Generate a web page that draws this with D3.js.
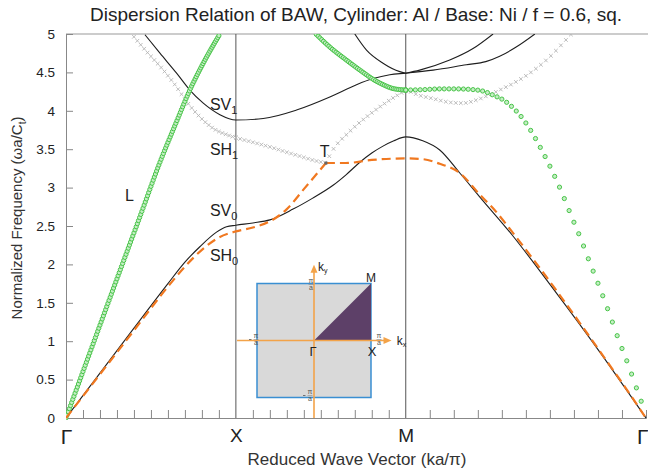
<!DOCTYPE html>
<html><head><meta charset="utf-8">
<script src="https://cdn.jsdelivr.net/npm/d3@7"></script>
<style>body{margin:0;background:#fff}svg{display:block}text{font-family:"Liberation Sans",Arial,sans-serif}</style>
</head><body>
<svg id="c" width="648" height="469"></svg>
<script>
// ---------- data ----------
const symLabels = ["Γ","X","M","Γ"];
const symPos = [0, 1, 2, 2 + Math.SQRT2];
const yTicks = [0,0.5,1,1.5,2,2.5,3,3.5,4,4.5,5];
const yTickLabels = ["0","0.5","1","1.5","2","2.5","3","3.5","4","4.5","5"];

// [reduced path position, normalized frequency]
const SV0 = [[0,0],[0.2,0.584],[0.4,1.17],[0.6,1.75],[0.7,2.03],[0.788,2.23],[0.886,2.42],[0.945,2.49],[1.0,2.51],
  [1.1,2.54],[1.2,2.58],[1.337,2.72],[1.45,2.86],[1.572,3.03],[1.65,3.17],[1.73,3.33],[1.8,3.45],[1.866,3.54],[1.93,3.61],[2.0,3.66],
  [2.1,3.61],[2.2,3.49],[2.318,3.19],[2.435,2.88],[2.631,2.37],[2.75,2.03],[2.906,1.57],[3.024,1.22],[3.171,0.77],[3.298,0.37],[3.414,0]];
const SH0a = [[0,0],[0.2,0.57],[0.4,1.14],[0.6,1.71],[0.7,1.97],[0.8,2.19],[0.9,2.35],[1.0,2.43],
  [1.1,2.48],[1.2,2.56],[1.3,2.72],[1.4,2.98],[1.53,3.32]];
const SH0b = [[1.53,3.32],[1.647,3.32],[1.8,3.36],[2.0,3.38],[2.1,3.37],[2.2,3.31],[2.318,3.19],[2.435,2.91],[2.514,2.73],
  [2.631,2.41],[2.749,2.07],[2.867,1.72],[3.024,1.24],[3.171,0.78],[3.298,0.38],[3.414,0]];
const SV1 = [[0.465,4.99],[0.553,4.75],[0.651,4.49],[0.729,4.27],[0.808,4.10],[0.906,3.95],[1.0,3.88],
  [1.161,3.90],[1.357,4.01],[1.553,4.18],[1.71,4.34],[1.808,4.42],[1.906,4.47],[2.0,4.49],
  [2.161,4.53],[2.357,4.60],[2.471,4.64],[2.553,4.71],[2.65,4.83],[2.76,5.0]];
const B2a = [[1.70,5.0],[1.769,4.79],[1.866,4.62],[1.965,4.51],[2.0,4.49]];
const B2b = [[2.0,4.49],[2.082,4.53],[2.259,4.66],[2.396,4.81],[2.514,5.0]];
const SH1a = [[0.386,5.0],[0.475,4.77],[0.573,4.53],[0.651,4.31],[0.71,4.12],[0.788,3.92],[0.867,3.77],[0.945,3.69],[1.0,3.65],
  [1.1,3.59],[1.2,3.53],[1.3,3.46],[1.376,3.41],[1.45,3.36],[1.53,3.32]];
const SH1b = [[1.53,3.32],[1.56,3.45],[1.67,3.73],[1.769,3.92],[1.866,4.08],[1.965,4.22],[2.0,4.26],
  [2.08,4.20],[2.157,4.16],[2.259,4.11],[2.337,4.10],[2.416,4.14],[2.494,4.21],[2.553,4.27],[2.651,4.38],[2.749,4.52],[2.847,4.70],[2.925,4.88],[2.975,5.0]];
const La = [[0,0],[0.1,0.605],[0.298,1.80],[0.435,2.62],[0.553,3.33],[0.651,3.86],[0.729,4.27],[0.808,4.62],[0.906,5.0]];
const Lb = [[1.471,5.0],[1.553,4.83],[1.651,4.66],[1.749,4.50],[1.808,4.41],[1.867,4.34],[1.925,4.29],[2.0,4.27]];
const Lc = [[2.0,4.27],[2.1,4.275],[2.2,4.285],[2.3,4.285],[2.4,4.275],[2.465,4.25],[2.518,4.20],[2.575,4.14],[2.631,4.04],
  [2.688,3.90],[2.745,3.71],[2.8,3.49],[2.857,3.24],[2.916,2.95],[2.971,2.65],[3.029,2.34],[3.084,2.02],[3.141,1.70],
  [3.2,1.35],[3.253,1.02],[3.312,0.68],[3.366,0.34],[3.414,0.05]];

const bandLabels = [{t:"SV",sub:"1",s:0.847,f:4.01},{t:"SH",sub:"1",s:0.847,f:3.42},{t:"SV",sub:"0",s:0.847,f:2.63},{t:"SH",sub:"0",s:0.847,f:2.04},{t:"L",sub:"",s:0.347,f:2.83},{t:"T",sub:"",s:1.494,f:3.4}];
const pointT = [1.53,3.32];

// Brillouin zone inset (units of pi/a)
const bz = [[-1,-1],[1,-1],[1,1],[-1,1]];
const ibz = [[0,0],[1,0],[1,1]];

// ---------- drawing ----------
const svg = d3.select("#c");
const x = d3.scaleLinear().domain([0, 2 + Math.SQRT2]).range([66, 646]);
const y = d3.scaleLinear().domain([0, 5]).range([418, 34]);
const line = d3.line().x(d => x(d[0])).y(d => y(d[1])).curve(d3.curveMonotoneX);

svg.append("defs").append("clipPath").attr("id","clip").append("rect")
  .attr("x",66).attr("y",34).attr("width",582).attr("height",386);

// title
svg.append("text").attr("x",356).attr("y",21).attr("text-anchor","middle").attr("font-size",19).attr("fill","#222")
  .text("Dispersion Relation of BAW, Cylinder: Al / Base: Ni / f = 0.6, sq.");

// frame: top line
svg.append("line").attr("x1",66).attr("x2",648).attr("y1",y(5)).attr("y2",y(5)).attr("stroke","#999").attr("stroke-width",1.2);

// y axis
const yAxis = svg.append("g").attr("transform","translate(66,0)")
  .call(d3.axisLeft(y).tickValues(yTicks).tickFormat((d,i)=>yTickLabels[i]).tickSize(-7).tickPadding(11));
yAxis.select(".domain").attr("stroke","#888");
yAxis.selectAll(".tick line").attr("stroke","#888");
yAxis.selectAll(".tick text").attr("font-size",13.5).attr("fill","#222").attr("font-family","Liberation Sans, Arial, sans-serif");

// x axis minor ticks
const minor = [];
for (let i=1;i<10;i++) minor.push(i/10);
for (let i=1;i<10;i++) minor.push(1+i/10);
for (let i=1;i<10;i++) minor.push(2+Math.SQRT2*i/10);
const xAxis = svg.append("g").attr("transform","translate(0,418)")
  .call(d3.axisBottom(x).tickValues(minor).tickFormat("").tickSize(-8));
xAxis.select(".domain").attr("stroke","#888");
xAxis.selectAll(".tick line").attr("stroke","#888");
const xLab = svg.append("g").attr("transform","translate(0,418)")
  .call(d3.axisBottom(x).tickValues(symPos).tickFormat((d,i)=>symLabels[i]).tickSize(0).tickPadding(11));
xLab.select(".domain").remove();
xLab.selectAll(".tick text").attr("fill","#222")
  .attr("font-family",(d,i)=> symLabels[i]==="Γ" ? "Liberation Serif, Times New Roman, serif" : "Liberation Sans, Arial, sans-serif")
  .attr("font-size",(d,i)=> symLabels[i]==="Γ" ? 21 : 19)
  .attr("text-anchor",(d,i)=> i===symLabels.length-1 ? "end" : "middle")
  .attr("dx",(d,i)=> i===symLabels.length-1 ? 2 : 0);

// symmetry vertical lines
svg.selectAll(".sym").data([1,2]).enter().append("line")
  .attr("x1",d=>x(d)).attr("x2",d=>x(d)).attr("y1",y(0)).attr("y2",y(5)).attr("stroke","#555").attr("stroke-width",1);

// axis titles
svg.append("text").attr("x",357).attr("y",465).attr("text-anchor","middle").attr("font-size",17).attr("fill","#333")
  .text("Reduced Wave Vector (ka/π)");
const yl = svg.append("text").attr("transform","translate(22,218) rotate(-90)").attr("text-anchor","middle").attr("font-size",15).attr("fill","#333");
yl.append("tspan").text("Normalized Frequency (ωa/C");
yl.append("tspan").attr("font-size",10).attr("dy",4).text("t");
yl.append("tspan").attr("dy",-4).text(")");

// ---------- inset ----------
const ix = d3.scaleLinear().domain([-1,1]).range([257,371]);
const iy = d3.scaleLinear().domain([-1,1]).range([397.5,283.5]);
const inset = svg.append("g");
inset.append("polygon").attr("points", bz.map(p=>[ix(p[0]),iy(p[1])].join(",")).join(" "))
  .attr("fill","#d9d9d9").attr("stroke","#3a8fd2").attr("stroke-width",1.5);
inset.append("polygon").attr("points", ibz.map(p=>[ix(p[0]),iy(p[1])].join(",")).join(" "))
  .attr("fill","#5d4068");
const oc = "#f3a349";
inset.append("line").attr("x1",ix(-1.35)).attr("x2",ix(1.28)).attr("y1",iy(0)).attr("y2",iy(0)).attr("stroke",oc).attr("stroke-width",1.6);
inset.append("line").attr("x1",ix(0)).attr("x2",ix(0)).attr("y1",418).attr("y2",iy(1.25)).attr("stroke",oc).attr("stroke-width",1.6);
inset.append("polygon").attr("points",[[ix(1.36),iy(0)],[ix(1.36)-8,iy(0)-3.5],[ix(1.36)-8,iy(0)+3.5]].map(p=>p.join(",")).join(" ")).attr("fill",oc);
inset.append("polygon").attr("points",[[ix(0),iy(1.33)],[ix(0)-3.5,iy(1.33)+8],[ix(0)+3.5,iy(1.33)+8]].map(p=>p.join(",")).join(" ")).attr("fill",oc);
function itext(t,px,py,fs,anchor,fam){ return inset.append("text").attr("x",px).attr("y",py).attr("font-size",fs).attr("fill","#222").attr("text-anchor",anchor||"start").attr("font-family",fam||null).text(t); }
itext("M", ix(1)-5, iy(1)-2, 12);
itext("Γ", ix(0)-1, iy(0)+15, 13, "middle");
itext("X", ix(1)+1, iy(0)+15, 13, "middle");
const kyT = itext("k", ix(0)+4, iy(1.33)+6, 12); kyT.append("tspan").attr("font-size",7).attr("dy",2).text("y");
const kxT = itext("k", ix(1.45), iy(0)+4, 12); kxT.append("tspan").attr("font-size",7).attr("dy",2).text("x");
function frac(cx, cy, neg){
  const g = inset.append("g").attr("fill","#555");
  g.append("text").attr("x",cx).attr("y",cy-1.5).attr("font-size",7).attr("text-anchor","middle").text("π");
  g.append("line").attr("x1",cx-2.5).attr("x2",cx+2.5).attr("y1",cy).attr("y2",cy).attr("stroke","#777").attr("stroke-width",0.5);
  g.append("text").attr("x",cx).attr("y",cy+5.5).attr("font-size",7).attr("text-anchor","middle").text("a");
  if (neg) g.append("line").attr("x1",cx-7).attr("x2",cx-4.5).attr("y1",cy).attr("y2",cy).attr("stroke","#555").attr("stroke-width",0.8);
}
frac(ix(0)-3, iy(1)+1, false);
frac(ix(1)+8, iy(0)-1, false);
frac(ix(-1)-1, iy(0)-1, true);
frac(ix(0)-4, iy(-1)-2, true);

// ---------- curves ----------
const plot = svg.append("g").attr("clip-path","url(#clip)");
function drawLine(data, stroke, width, dash){
  return plot.append("path").datum(data).attr("d",line).attr("fill","none")
    .attr("stroke",stroke).attr("stroke-width",width).attr("stroke-dasharray",dash||null);
}
function samplePath(node){
  const L = node.getTotalLength(), pts=[];
  for (let l=0;l<=L;l+=0.25) pts.push(node.getPointAtLength(l));
  return pts;
}
function yAtX(pts, px){
  if (px<=pts[0].x) return pts[0].y;
  let lo=0, hi=pts.length-1;
  if (px>=pts[hi].x) return pts[hi].y;
  while (hi-lo>1){ const m=(lo+hi)>>1; if (pts[m].x<px) lo=m; else hi=m; }
  const a=pts[lo], b=pts[hi]; const t=(px-a.x)/((b.x-a.x)||1); return a.y+t*(b.y-a.y);
}
const segStart = [0,1,2], segEnd=[1,2,2+Math.SQRT2];
function markerPositions(data, steps){
  const tmp = plot.append("path").datum(data).attr("d",line).attr("fill","none").attr("stroke","none");
  const pts = samplePath(tmp.node()); tmp.remove();
  const s0 = data[0][0], s1 = data[data.length-1][0], out=[];
  for (let k=0;k<3;k++){
    for (let s=segStart[k]; s<=segEnd[k]+1e-9; s+=steps[k]){
      if (s<s0-1e-9 || s>s1+1e-9) continue;
      const px=x(s), py=yAtX(pts,px);
      if (py>=y(5)-2) out.push([px,py]);
    }
  }
  return out;
}

// grey crosses SH1
[SH1a, SH1b].forEach(d=>{
  const m = markerPositions(d, [1/50, 1/40, Math.SQRT2/48]);
  plot.selectAll(null).data(m).enter().append("path")
    .attr("d",p=>`M${p[0]-1.8},${p[1]-1.8}L${p[0]+1.8},${p[1]+1.8}M${p[0]-1.8},${p[1]+1.8}L${p[0]+1.8},${p[1]-1.8}`)
    .attr("stroke","#b4b4b4").attr("stroke-width",0.9).attr("fill","none");
});

// black lines
[SV0, SV1, B2a, B2b].forEach(d=>drawLine(d,"#1e1e1e",1.1));

// green circles L
[La, Lb, Lc].forEach(d=>{
  const m = markerPositions(d, [1/150, 1/95, Math.SQRT2/50]);
  plot.selectAll(null).data(m).enter().append("circle")
    .attr("cx",p=>p[0]).attr("cy",p=>p[1]).attr("r",2.1)
    .attr("fill","#c4eec4").attr("stroke","#48c448").attr("stroke-width",1);
});

// orange dashed SH0
[SH0a, SH0b].forEach(d=>drawLine(d,"#f07820",2.2,"9,5"));

// T point
plot.append("rect").attr("x",x(pointT[0])-1.5).attr("y",y(pointT[1])-1.5).attr("width",3).attr("height",3).attr("fill","#666");

// band labels
bandLabels.forEach(b=>{
  const t = svg.append("text").attr("x",x(b.s)).attr("y",y(b.f)).attr("font-size",16).attr("fill","#222").text(b.t);
  if (b.sub) t.append("tspan").attr("font-size",11).attr("dy",4).text(b.sub);
});
</script>
</body></html>
